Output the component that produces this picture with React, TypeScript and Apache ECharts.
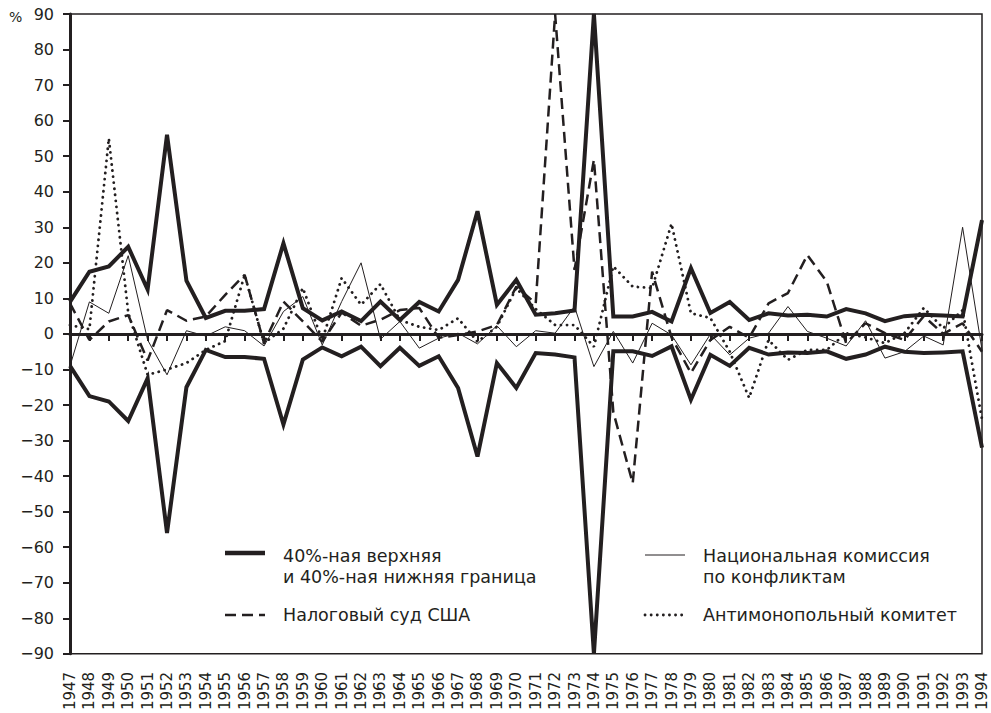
import React, { useEffect, useRef } from "react";
import * as echarts from "echarts";

const years = [
  "1947","1948","1949","1950","1951","1952","1953","1954","1955","1956","1957","1958",
  "1959","1960","1961","1962","1963","1964","1965","1966","1967","1968","1969","1970",
  "1971","1972","1973","1974","1975","1976","1977","1978","1979","1980","1981","1982",
  "1983","1984","1985","1986","1987","1988","1989","1990","1991","1992","1993","1994",
];

const upperBound = [
  9, 17.5, 19, 24.5, 12.5, 56, 15, 4.5, 6.5, 6.5, 7, 25.5,
  7.2, 3.8, 6.3, 3.6, 9.1, 3.9, 9, 6.3, 15.2, 34.5, 8.2, 15.2,
  5.4, 5.8, 6.6, 90, 4.9, 4.9, 6.2, 3.5, 18.5, 5.9, 9, 3.9,
  5.8, 5.2, 5.4, 4.9, 7, 5.8, 3.6, 5, 5.4, 5.2, 4.9, 32,
];

const lowerBound = [
  -9, -17.5, -19, -24.5, -12.5, -56, -15, -4.5, -6.5, -6.5, -7, -25.5,
  -7.2, -3.8, -6.3, -3.6, -9.1, -3.9, -9, -6.3, -15.2, -34.5, -8.2, -15.2,
  -5.4, -5.8, -6.6, -90, -4.9, -4.9, -6.2, -3.5, -18.5, -5.9, -9, -3.9,
  -5.8, -5.2, -5.4, -4.9, -7, -5.8, -3.6, -5, -5.4, -5.2, -4.9, -32,
];

const nationalCommission = [
  -9, 9, 5.8, 22, -1.7, -11.5, 0.9, -0.6, 2, 0.9, -3.4, 6.3,
  10.5, -3.1, 9.1, 20, -1.5, 3.5, -4, -1.2, 0.2, -2.8, 2.3, -3.6,
  0.9, 0.2, 7.7, -9.2, 0.7, -8.2, 3, -0.3, -8.7, -0.1, -5.9, -1.2,
  0.2, 7.7, 0.7, -1.2, -3.4, 3.7, -6.8, -5, -0.6, -3.1, 30, -4.5,
];

const taxCourt = [
  8.6, -1.7, 3.5, 5.3, -7.5, 6.7, 3.7, 4.9, 11, 16.6, -2.6, 9.1,
  3.5, -2.2, 6, 2.3, 4, 6.7, 7.3, -1.1, -0.3, 0.7, 2.5, 13.3,
  8.6, 90, 18, 49, -22, -42, 17.5, -1, -11, -1.7, 2, -1.1,
  8.6, 11.5, 22.2, 14.7, -2.6, 3, 0.2, -1.7, 5, 0, 3, -5,
];

const antitrust = [
  2.5, 1.3, 55, 6, -11.5, -10, -8.2, -4.5, -2, 16.6, -2.6, 1.5,
  12.9, -1.7, 15.7, 8.2, 14, 3.9, 2, 1.1, 4.4, -2.2, 2, 12.9,
  7, 2.5, 2.5, -3.6, 19, 13.3, 12.9, 31, 5.8, 4.5, -5, -18,
  -1.7, -7.3, -4.5, -4.5, 0.2, -1, -2.6, 0.2, 7.3, 1.6, 6.7, -24,
];

const seriesNames = [
  "40%-ная верхняя\nи 40%-ная нижняя граница",
  "Налоговый суд США",
  "Национальная комиссия\nпо конфликтам",
  "Антимонопольный комитет",
];

const INK = "#231f20";
const FONT = "DejaVu Sans";

export default function App() {
  const ref = useRef<HTMLDivElement>(null);

  useEffect(() => {
    document.body.style.margin = "0";
    const chart = echarts.init(ref.current!, undefined, { renderer: "svg" });

    const legendText = (x: number, y: number, text: string) => ({
      type: "text",
      left: x,
      top: y,
      style: { text, font: `17.5px "${FONT}"`, fill: INK, lineHeight: 21 },
    });
    const legendLine = (x: number, y: number, width: number, lineDash: any, cap: string) => ({
      type: "line",
      shape: { x1: x, y1: y, x2: x + 40, y2: y },
      style: { stroke: INK, lineWidth: width, lineDash, lineCap: cap },
    });

    chart.setOption({
      animation: false,
      backgroundColor: "#ffffff",
      grid: {
        left: 70,
        right: 9,
        top: 14,
        bottom: 59,
        show: true,
        borderColor: INK,
        borderWidth: 1.5,
        containLabel: false,
      },
      xAxis: {
        type: "category",
        data: years,
        boundaryGap: false,
        axisLine: { lineStyle: { color: INK, width: 3 } },
        axisTick: { show: true, inside: false, length: 7, interval: 0, lineStyle: { color: INK, width: 2 } },
        axisLabel: {
          interval: 0,
          rotate: 90,
          margin: 18,
          color: INK,
          fontFamily: FONT,
          fontSize: 15,
        },
        splitLine: { show: false },
      },
      yAxis: {
        type: "value",
        min: -90,
        max: 90,
        interval: 10,
        axisLine: { show: true, lineStyle: { color: INK, width: 3 } },
        axisTick: { show: true, inside: false, length: 7, lineStyle: { color: INK, width: 2 } },
        axisLabel: {
          margin: 16,
          color: INK,
          fontFamily: FONT,
          fontSize: 16,
          formatter: (v: number) => (v < 0 ? "\u2212" + Math.abs(v) : String(v)),
        },
        splitLine: { show: false },
      },
      series: [
        {
          name: "upper",
          type: "line",
          data: upperBound,
          symbol: "none",
          lineStyle: { color: INK, width: 4, join: "miter" },
          z: 5,
        },
        {
          name: "lower",
          type: "line",
          data: lowerBound,
          symbol: "none",
          lineStyle: { color: INK, width: 4, join: "miter" },
          z: 5,
        },
        {
          name: seriesNames[2],
          type: "line",
          data: nationalCommission,
          symbol: "none",
          lineStyle: { color: INK, width: 1 },
          z: 3,
        },
        {
          name: seriesNames[1],
          type: "line",
          data: taxCourt,
          symbol: "none",
          lineStyle: { color: INK, width: 2.5, type: [11, 6] },
          z: 4,
        },
        {
          name: seriesNames[3],
          type: "line",
          data: antitrust,
          symbol: "none",
          lineStyle: { color: INK, width: 2.8, type: [0.1, 6], cap: "round" },
          z: 4,
        },
      ],
      graphic: [
        {
          type: "text",
          left: 9,
          top: 10,
          style: { text: "%", font: `14px "${FONT}"`, fill: INK },
        },
        legendLine(225, 553, 4.5, null, "butt"),
        legendText(283, 545, seriesNames[0]),
        legendLine(225, 615, 2.5, [11, 6], "butt"),
        legendText(283, 604, seriesNames[1]),
        legendLine(645, 555, 1, null, "butt"),
        legendText(703, 545, seriesNames[2]),
        legendLine(645, 615, 2.8, [0.1, 6], "round"),
        legendText(703, 604, seriesNames[3]),
      ],
    });

    return () => chart.dispose();
  }, []);

  return <div ref={ref} style={{ width: 991, height: 713 }} />;
}
